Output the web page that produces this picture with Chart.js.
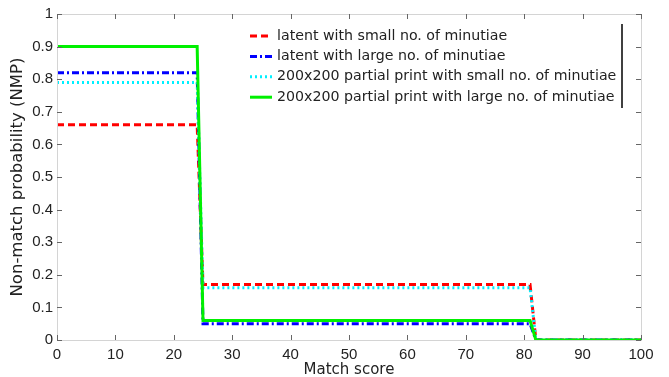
<!DOCTYPE html>
<html>
<head>
<meta charset="utf-8">
<script src="https://cdn.jsdelivr.net/npm/chart.js@4"></script>
<style>
  html, body { margin: 0; padding: 0; background: #fff; }
  #wrap { width: 669px; height: 377px; }
</style>
</head>
<body>
<div id="wrap"><canvas id="nmpChart" width="669" height="377"></canvas></div>
<script>
// Step breakpoints on the match score axis
const scoreBreaks = [0, 24, 25, 81, 82, 100];

// NMP at each breakpoint
const latentSmall = [0.66, 0.66, 0.17, 0.17, 0, 0];
const latentLarge = [0.82, 0.82, 0.05, 0.05, 0, 0];
const partialSmall = [0.79, 0.79, 0.16, 0.16, 0, 0];
const partialLarge = [0.90, 0.90, 0.06, 0.06, 0, 0];

const seriesLabels = [
  'latent with small no. of minutiae',
  'latent with large no. of minutiae',
  '200x200 partial print with small no. of minutiae',
  '200x200 partial print with large no. of minutiae'
];

const xTicks = [0, 10, 20, 30, 40, 50, 60, 70, 80, 90, 100];
const yTicks = [0, 0.1, 0.2, 0.3, 0.4, 0.5, 0.6, 0.7, 0.8, 0.9, 1];

function toPoints(values) {
  return scoreBreaks.map((s, i) => ({ x: s, y: values[i] }));
}

const TICK_FONT = 'Arial, "Liberation Sans", Helvetica, sans-serif';
const TEXT_FONT = '"DejaVu Sans", Verdana, sans-serif';

// Box frame, inward ticks and the legend
const framePlugin = {
  id: 'frame',
  afterDraw(chart) {
    const ctx = chart.ctx;
    const a = chart.chartArea;
    const xs = chart.scales.x;
    const ys = chart.scales.y;
    ctx.save();
    ctx.strokeStyle = '#d4d4d4';
    ctx.lineWidth = 1;
    ctx.strokeRect(a.left + 0.5, a.top + 0.5, a.right - a.left, a.bottom - a.top);

    ctx.strokeStyle = '#666';
    ctx.beginPath();
    xTicks.forEach(t => {
      const px = Math.round(xs.getPixelForValue(t)) + 0.5;
      ctx.moveTo(px, a.bottom); ctx.lineTo(px, a.bottom - 5);
      ctx.moveTo(px, a.top); ctx.lineTo(px, a.top + 5);
    });
    yTicks.forEach(t => {
      const py = Math.round(ys.getPixelForValue(t)) + 0.5;
      ctx.moveTo(a.left, py); ctx.lineTo(a.left + 5, py);
      ctx.moveTo(a.right, py); ctx.lineTo(a.right - 5, py);
    });
    ctx.stroke();

    // legend
    const lx = 246, ly = 24, lw = 376, lh = 84;
    ctx.fillStyle = '#fff';
    ctx.fillRect(lx, ly, lw, lh);
    ctx.strokeStyle = '#000';
    ctx.lineWidth = 1.5;
    ctx.beginPath();
    ctx.moveTo(lx + lw, ly);
    ctx.lineTo(lx + lw, ly + lh);
    ctx.stroke();

    ctx.font = '14.2px ' + TEXT_FONT;
    ctx.textBaseline = 'middle';
    ctx.textAlign = 'left';
    chart.data.datasets.forEach((ds, i) => {
      const y = 36 + i * 20.4;
      ctx.strokeStyle = ds.borderColor;
      ctx.lineWidth = ds.borderWidth;
      ctx.setLineDash(ds.borderDash || []);
      ctx.beginPath();
      ctx.moveTo(250, y);
      ctx.lineTo(272, y);
      ctx.stroke();
      ctx.setLineDash([]);
      ctx.fillStyle = '#222';
      ctx.fillText(ds.label, 277, y);
    });
    ctx.restore();
  }
};

const ctx = document.getElementById('nmpChart').getContext('2d');
new Chart(ctx, {
  type: 'line',
  data: {
    datasets: [
      {
        label: seriesLabels[0],
        data: toPoints(latentSmall),
        borderColor: '#ff0000',
        borderDash: [7, 4],
        borderWidth: 3,
        order: 4
      },
      {
        label: seriesLabels[1],
        data: toPoints(latentLarge),
        borderColor: '#0000ff',
        borderDash: [7, 3, 2, 3],
        borderWidth: 3,
        order: 3
      },
      {
        label: seriesLabels[2],
        data: toPoints(partialSmall),
        borderColor: '#00f0ff',
        borderDash: [2, 3],
        borderWidth: 3,
        order: 2
      },
      {
        label: seriesLabels[3],
        data: toPoints(partialLarge),
        borderColor: '#00f000',
        borderWidth: 3,
        order: 1
      }
    ]
  },
  options: {
    responsive: false,
    animation: false,
    layout: { padding: { left: 0, right: 28, top: 14, bottom: 0 } },
    elements: {
      point: { radius: 0 },
      line: { tension: 0, fill: false, borderCapStyle: 'butt' }
    },
    plugins: {
      legend: { display: false },
      tooltip: { enabled: false }
    },
    scales: {
      x: {
        type: 'linear',
        min: 0,
        max: 100,
        afterBuildTicks: s => { s.ticks = xTicks.map(v => ({ value: v })); },
        grid: { display: false, drawTicks: false },
        border: { display: false },
        ticks: { color: '#222', font: { family: TICK_FONT, size: 15 }, padding: 6, maxRotation: 0 },
        title: {
          display: true,
          text: 'Match score',
          color: '#222',
          font: { family: TEXT_FONT, size: 15 },
          padding: { top: 0, bottom: -2 }
        },
        afterFit: s => { s.height = 37; }
      },
      y: {
        min: 0,
        max: 1,
        afterBuildTicks: s => { s.ticks = yTicks.map(v => ({ value: v })); },
        grid: { display: false, drawTicks: false },
        border: { display: false },
        ticks: {
          color: '#222',
          font: { family: TICK_FONT, size: 15 },
          padding: 4,
          callback: v => String(Math.round(v * 10) / 10)
        },
        title: {
          display: true,
          text: 'Non-match probability (NMP)',
          color: '#222',
          font: { family: TEXT_FONT, size: 16.5 },
          padding: { top: 8, bottom: 0 }
        },
        afterFit: s => { s.width = 57; }
      }
    }
  },
  plugins: [framePlugin]
});
</script>
</body>
</html>
